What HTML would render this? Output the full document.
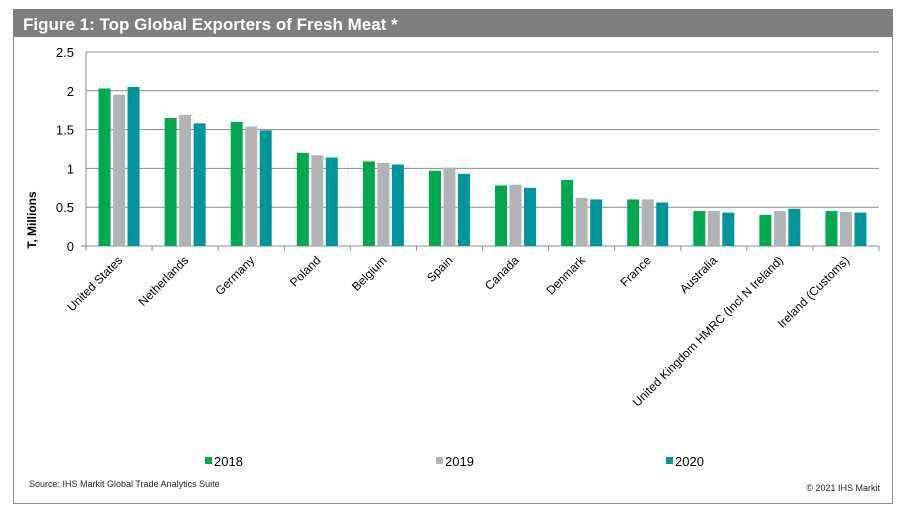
<!DOCTYPE html>
<html><head><meta charset="utf-8"><style>
body{margin:0;background:#fff;width:906px;height:512px;overflow:hidden;font-family:"Liberation Sans",Arial,sans-serif}
</style></head><body>
<svg id="chart" width="906" height="512" xmlns="http://www.w3.org/2000/svg" font-family="Liberation Sans, Arial, sans-serif">
<rect x="13.5" y="9.5" width="879" height="494" fill="#fff" stroke="#8c8c8c"/>
<rect x="13" y="9" width="880" height="28" fill="#7f7f7f"/>
<text x="23" y="30" font-size="17" font-weight="bold" fill="#fff">Figure 1: Top Global Exporters of Fresh Meat *</text>
<text transform="translate(36,220) rotate(-90)" font-size="12" font-weight="bold" fill="#000" text-anchor="middle">T, Millions</text>
<g id="grid"></g><g id="bars"></g><g id="xlabels"></g>
<g>
<rect x="205" y="457" width="7" height="7" fill="#00a94f"/>
<text x="214" y="466" font-size="13">2018</text>
<rect x="436" y="457" width="7" height="7" fill="#b1b3b6"/>
<text x="445" y="466" font-size="13">2019</text>
<rect x="666" y="457" width="7" height="7" fill="#00959a"/>
<text x="675" y="466" font-size="13">2020</text>
</g>
<text x="29" y="487" font-size="9" fill="#222">Source: IHS Markit Global Trade Analytics Suite</text>
<text x="880" y="491" font-size="9" fill="#222" text-anchor="end">© 2021 IHS Markit</text>
</svg>
<script>
const categories=["United States","Netherlands","Germany","Poland","Belgium","Spain","Canada","Denmark","France","Australia","United Kingdom HMRC (Incl N Ireland)","Ireland (Customs)"];
const s2018=[2.03,1.65,1.60,1.20,1.09,0.97,0.78,0.85,0.60,0.45,0.40,0.45];
const s2019=[1.95,1.69,1.54,1.17,1.07,1.01,0.79,0.62,0.60,0.45,0.45,0.44];
const s2020=[2.05,1.58,1.49,1.14,1.05,0.93,0.75,0.60,0.56,0.43,0.48,0.43];
const yTicks=[0,0.5,1,1.5,2,2.5];
const yTickLabels=["0","0.5","1","1.5","2","2.5"];
const series=[s2018,s2019,s2020];
const colors=["#00a94f","#b1b3b6","#00959a"];
const names=["2018","2019","2020"];
const NS="http://www.w3.org/2000/svg";
const X0=86,X1=879,Y0=246,Y1=52,YMAX=2.5;
const band=(X1-X0)/categories.length;
const y=v=>Y0-(v/YMAX)*(Y0-Y1);
const xc=i=>X0+band*(i+0.5);
function mk(tag,attrs,parent){const e=document.createElementNS(NS,tag);for(const k in attrs)e.setAttribute(k,attrs[k]);parent.appendChild(e);return e;}
const grid=document.getElementById('grid');
yTicks.forEach((t,i)=>{
  if(t>0){const l=mk('line',{x1:X0,x2:X1,y1:y(t),y2:y(t),stroke:'#8c8c8c','stroke-width':1},grid);
  
  }
  const tx=mk('text',{x:X0-12,y:y(t)+5,'font-size':13,'text-anchor':'end'},grid);
  tx.textContent=yTickLabels[i];
  
  
});
const ax=mk('line',{x1:X0,x2:X0,y1:Y1,y2:Y0,stroke:'#8c8c8c'},grid);


const xa=mk('line',{x1:X0-5,x2:X1,y1:Y0,y2:Y0,stroke:'#8c8c8c'},grid);


for(let i=0;i<=categories.length;i++){
  const tk=mk('line',{x1:X0+band*i,x2:X0+band*i,y1:Y0,y2:Y0+5,stroke:'#8c8c8c'},grid);
  
  
}
const bars=document.getElementById('bars');
const bw=12,step=14.5;
categories.forEach((c,i)=>{
  series.forEach((s,j)=>{
    const bx=xc(i)+(j-1)*step-bw/2;
    const r=mk('rect',{x:bx,y:y(s[i]),width:bw,height:Y0-y(s[i]),fill:colors[j]},bars);
    
    
  });
  const lb=mk('text',{transform:`translate(${xc(i)+4},${Y0+15}) rotate(-45)`,'font-size':12,'text-anchor':'end'},document.getElementById('xlabels'));
  lb.textContent=c;
  
  
});
</script>
</body></html>
